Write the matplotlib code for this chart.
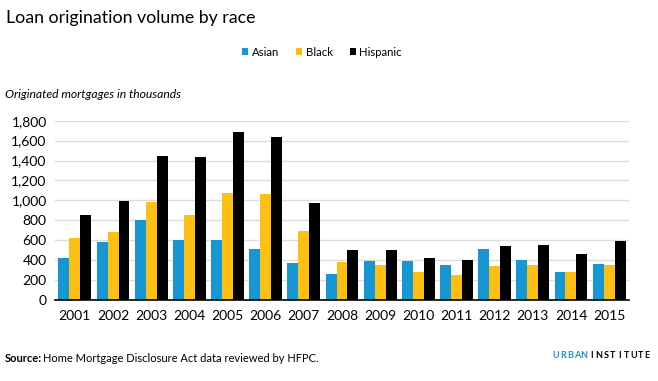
import matplotlib.pyplot as plt
import numpy as np

plt.rcParams["font.family"] = ["Lato", "DejaVu Sans"]

years = [str(y) for y in range(2001, 2016)]
asian = [420, 580, 800, 600, 600, 517, 376, 265, 396, 396, 356, 507, 406, 285, 366]
black = [620, 680, 980, 850, 1070, 1060, 688, 386, 356, 285, 255, 346, 356, 285, 356]
hispanic = [850, 990, 1445, 1434, 1686, 1635, 970, 497, 497, 426, 406, 547, 557, 457, 588]

series = [("Asian", asian, "#1696d2"), ("Black", black, "#fdbf11"), ("Hispanic", hispanic, "#000000")]

W, H = 658, 381
fig = plt.figure(figsize=(W / 100, H / 100), dpi=100)
ax = fig.add_axes([55 / W, 81 / H, (629 - 55) / W, (300 - 120.7) / H])

x = np.arange(len(years))
bw = 0.288
for i, (name, vals, col) in enumerate(series):
    ax.bar(x + (i - 1) * bw, vals, bw, color=col, label=name, zorder=3)

ax.set_xlim(-0.52, len(years) - 0.48)
ax.set_ylim(0, 1800)
ax.set_yticks(range(0, 1801, 200))
ax.set_yticklabels([f"{v:,}" for v in range(0, 1801, 200)])
ax.set_xticks(x)
ax.set_xticklabels(years)
ax.grid(axis="y", color="#dcdcdc", lw=1, zorder=0)
for s in ["top", "right", "left"]:
    ax.spines[s].set_visible(False)
ax.spines["bottom"].set_color("black")
ax.spines["bottom"].set_linewidth(1.2)
ax.spines["bottom"].set_zorder(4)
ax.tick_params(axis="both", length=0, labelsize=10, colors="black")
ax.tick_params(axis="x", pad=7)
ax.tick_params(axis="y", pad=6)

fig.text(6 / W, 1 - 18 / H, "Loan origination volume by race", fontsize=12.8, va="center", ha="left")
fig.text(5 / W, 1 - 95 / H, "Originated mortgages in thousands", fontsize=8.7, style="italic", va="center")

fig.legend(loc="center", bbox_to_anchor=(322 / W, 1 - 52 / H), ncol=3, frameon=False,
           fontsize=8.2, handlelength=0.55, handleheight=0.55, handletextpad=0.3, columnspacing=1.5)

fig.text(5 / W, 1 - 359 / H, "Source:", fontsize=8, weight="bold", va="center")
fig.text(43 / W, 1 - 359 / H, "Home Mortgage Disclosure Act data reviewed by HFPC.", fontsize=8, va="center")

xpos = 556
for ch, col in zip("URBANINSTITUTE", ["#1696d2"] * 5 + ["black"] * 9):
    fig.text(xpos / W, 1 - 356 / H, ch, fontsize=6.5, weight="bold", color=col, va="center", ha="center")
    xpos += 8 if (ch == "N" and col != "black") else (7 if col != "black" else 6.9)

fig.savefig("out.png", dpi=100)
